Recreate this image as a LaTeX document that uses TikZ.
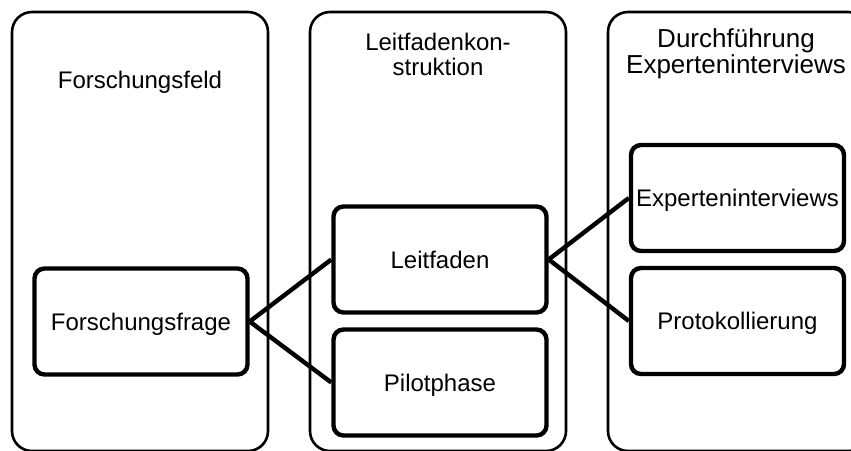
\documentclass[tikz,border=0pt]{standalone}
\usepackage{fontspec}
\setmainfont{Liberation Sans}
\begin{document}
\begin{tikzpicture}[x=1pt,y=-1pt,
  column/.style={draw=black,line width=2.6pt,rounded corners=20pt},
  stage/.style={draw=black,line width=4.4pt,rounded corners=10pt,
    minimum width=213pt,minimum height=106pt,inner sep=0pt,
    font=\fontsize{24}{28}\selectfont,text height=17pt,text depth=0pt},
  header/.style={align=center,anchor=base,inner sep=0pt,
    font=\fontsize{24}{25}\selectfont},
  bigheader/.style={header,font=\fontsize{26}{26}\selectfont},
  link/.style={draw=black,line width=4.4pt}]
\useasboundingbox (0,0) rectangle (851,450);
\clip (0,0) rectangle (851,450);
% three phase columns, running off the lower edge
\draw[column] (12,12) rectangle (268,451);
\draw[column] (310,12) rectangle (566,451);
\draw[column] (608,12) rectangle (868,451);
% column titles
\node[header] (tfeld) at (140,88) {Forschungsfeld};
\node[header] (tleit) at (438,75) {Leitfadenkon-\\struktion};
\node[bigheader] (tdurch) at (736,73) {Durchführung\\Experteninterviews};
% stages
\node[stage] (frage) at (141,321.5) {Forschungsfrage};
\node[stage] (leit) at (440,259.5) {Leitfaden};
\node[stage] (pilot) at (440,382.5) {Pilotphase};
\node[stage] (exp) at (737.5,198) {Experteninterviews};
\node[stage] (proto) at (737.5,321) {Protokollierung};
% connections
\draw[link] (frage.east) -- (leit.west);
\draw[link] (frage.east) -- (pilot.west);
\draw[link] (leit.east) -- (exp.west);
\draw[link] (leit.east) -- (proto.west);
\end{tikzpicture}
\end{document}
